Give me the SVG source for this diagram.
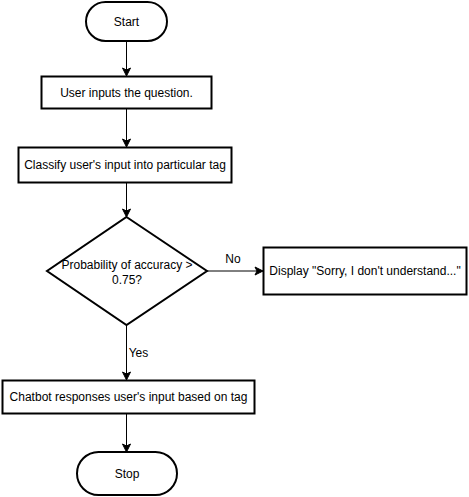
<svg xmlns="http://www.w3.org/2000/svg" width="469" height="497" viewBox="0 0 469 497">
  <style>
    .shape { fill: #ffffff; stroke: #000000; stroke-width: 2; }
    .edge { fill: none; stroke: #000000; stroke-width: 1; }
    .label { font-family: "Liberation Sans", Arial, Helvetica, sans-serif; font-size: 12px; fill: #000000; text-anchor: middle; dominant-baseline: central; }
  </style>
  <defs>
    <marker id="arrow" markerUnits="userSpaceOnUse" markerWidth="10" markerHeight="10" viewBox="0 0 10 10" refX="9" refY="5" orient="auto">
      <path d="M1,1 L9,5 L1,9 L3,5 Z" fill="#000000" stroke="#000000" stroke-width="1"/>
    </marker>
  </defs>

  <rect width="469" height="497" fill="#ffffff"/>

  <!-- flow connectors -->
  <g id="connectors">
    <line class="edge" x1="126.5" y1="41" x2="126.5" y2="76" marker-end="url(#arrow)"/>
    <line class="edge" x1="126.5" y1="109" x2="126.5" y2="147" marker-end="url(#arrow)"/>
    <line class="edge" x1="126.5" y1="183" x2="126.5" y2="217" marker-end="url(#arrow)"/>
    <line class="edge" x1="207" y1="271" x2="263" y2="271" marker-end="url(#arrow)"/>
    <text class="label" x="233" y="259">No</text>
    <line class="edge" x1="126.5" y1="325" x2="126.5" y2="380" marker-end="url(#arrow)"/>
    <text class="label" x="138.5" y="353">Yes</text>
    <line class="edge" x1="126.5" y1="414" x2="126.5" y2="452" marker-end="url(#arrow)"/>
  </g>

  <g id="start">
    <rect class="shape" x="86" y="2" width="81" height="39" rx="19.5" ry="19.5"/>
    <text class="label" x="126.5" y="21.5">Start</text>
  </g>

  <g id="user-input">
    <rect class="shape" x="41.5" y="76.5" width="170" height="32"/>
    <text class="label" x="126.5" y="92.5">User inputs the question.</text>
  </g>

  <g id="classify">
    <rect class="shape" x="18.5" y="147.5" width="213" height="35"/>
    <text class="label" x="125" y="165">Classify user's input into particular tag</text>
  </g>

  <g id="decision">
    <polygon class="shape" points="126.5,217 207,271 126.5,325 47,271"/>
    <text class="label" x="127" y="265">Probability of accuracy &gt;</text>
    <text class="label" x="127" y="280">0.75?</text>
  </g>

  <g id="fallback">
    <rect class="shape" x="263.5" y="247.5" width="203" height="47"/>
    <text class="label" x="365" y="271">Display "Sorry, I don't understand..."</text>
  </g>

  <g id="respond">
    <rect class="shape" x="2.5" y="380.5" width="252" height="33"/>
    <text class="label" x="128.5" y="397">Chatbot responses user's input based on tag</text>
  </g>

  <g id="stop">
    <rect class="shape" x="77" y="452" width="100" height="43" rx="21.5" ry="21.5"/>
    <text class="label" x="127" y="473.5">Stop</text>
  </g>
</svg>
